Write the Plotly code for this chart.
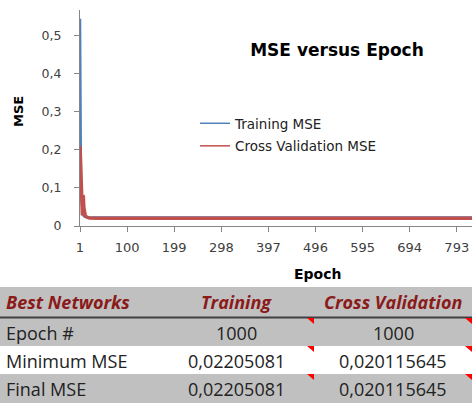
import plotly.graph_objects as go

# ---------------- data ----------------
epochs_train = [1, 2, 3, 4, 5, 6, 7, 8, 9, 10, 12, 14, 17, 20, 25, 30, 40, 1000]
train_mse = [0.545, 0.21, 0.12, 0.075, 0.05, 0.038, 0.032, 0.028, 0.026, 0.025,
             0.024, 0.023, 0.0225, 0.0222, 0.0221, 0.02208, 0.02206, 0.02205081]

epochs_cv = [1, 2, 3, 4, 5, 6, 7, 8, 9, 10, 11, 12, 13, 14, 16, 18, 21, 25, 30, 40, 1000]
cv_mse = [0.21, 0.16, 0.11, 0.06, 0.035, 0.028, 0.08, 0.078, 0.05, 0.036, 0.03,
          0.027, 0.025, 0.024, 0.023, 0.022, 0.021, 0.0205, 0.0203, 0.0202, 0.020115645]

x_tickvals = [1, 100, 199, 298, 397, 496, 595, 694, 793, 892, 991]
y_tickvals = [0, 0.1, 0.2, 0.3, 0.4, 0.5]

table_header = ["Best Networks", "Training", "Cross Validation"]
row_labels = ["Epoch #", "Minimum MSE", "Final MSE"]
training_vals = ["1000", "0,02205081", "0,02205081"]
cv_vals = ["1000", "0,020115645", "0,020115645"]

# ---------------- geometry helpers ----------------
W, H = 472, 403
MT = 10
def px(x):  # pixel x -> paper
    return x / W
def py(y):  # pixel y -> paper
    return (H - y) / (H - MT)

BLUE = "#4f81bd"
RED = "#c0504d"
GREY = "#c0c0c0"
CHART_FONT = "DejaVu Sans"
TABLE_FONT = "Open Sans"

fig = go.Figure()

fig.add_trace(go.Scatter(x=epochs_train, y=train_mse, mode="lines",
                         line=dict(color=BLUE, width=2.5), showlegend=False))
fig.add_trace(go.Scatter(x=epochs_cv, y=cv_mse, mode="lines",
                         line=dict(color=RED, width=3.5), showlegend=False))
# legend entries (thin lines as in the reference legend)
fig.add_trace(go.Scatter(x=[None], y=[None], mode="lines", name="Training MSE",
                         line=dict(color=BLUE, width=1.5), legendgroup="a"))
fig.add_trace(go.Scatter(x=[None], y=[None], mode="lines", name="Cross Validation MSE",
                         line=dict(color=RED, width=1.5), legendgroup="b"))

# ---------------- table (shapes + text) ----------------
shapes = []
annotations = []

shapes.append(dict(type="rect", xref="paper", yref="paper", layer="below",
                   x0=0, x1=1, y0=py(317), y1=py(287), fillcolor=GREY, line=dict(width=0)))
row_bounds = [(318, 346), (346, 374), (374, 403)]
row_fills = [GREY, "white", GREY]
for (t, b), f in zip(row_bounds, row_fills):
    shapes.append(dict(type="rect", xref="paper", yref="paper", layer="below",
                       x0=0, x1=1, y0=py(b), y1=py(t), fillcolor=f, line=dict(width=0)))
shapes.append(dict(type="line", xref="paper", yref="paper", x0=0, x1=1,
                   y0=py(317.5), y1=py(317.5), line=dict(color="#404040", width=2)))
col_rights = [314, 472]
for t, _ in row_bounds:
    for cr in col_rights:
        path = f"M {px(cr-7)},{py(t)} L {px(cr)},{py(t)} L {px(cr)},{py(t+6)} Z"
        shapes.append(dict(type="path", xref="paper", yref="paper", path=path,
                           fillcolor="#ff0000", line=dict(width=0)))

col_x = [4, 236, 393]
col_anchor = ["left", "center", "center"]
header_y = 302
for h, cx, ca in zip(table_header, col_x, col_anchor):
    annotations.append(dict(text=f"<b><i>{h}</i></b>", xref="paper", yref="paper",
                            x=px(cx), y=py(header_y), xanchor=ca, yanchor="middle",
                            showarrow=False,
                            font=dict(family=TABLE_FONT, size=18, color="#8b1a1a")))
columns = [row_labels, training_vals, cv_vals]
for col, cx, ca in zip(columns, col_x, col_anchor):
    for val, (t, b) in zip(col, row_bounds):
        annotations.append(dict(text=val, xref="paper", yref="paper",
                                x=px(cx), y=py((t + b) / 2 + 0.5), xanchor=ca, yanchor="middle",
                                showarrow=False,
                                font=dict(family=TABLE_FONT, size=18, color="#222222")))

annotations += [
    dict(text="<b>MSE</b>", xref="paper", yref="paper", x=px(18), y=py(112),
         xanchor="center", yanchor="middle",
         textangle=-90, showarrow=False, font=dict(family=CHART_FONT, size=13, color="black")),
    dict(text="<b>Epoch</b>", xref="paper", yref="paper", x=px(317), y=py(274),
         xanchor="center", yanchor="middle",
         showarrow=False, font=dict(family=CHART_FONT, size=14, color="black")),
]

fig.update_layout(
    width=W, height=H,
    margin=dict(l=0, r=0, t=MT, b=0, autoexpand=False),
    paper_bgcolor="white", plot_bgcolor="white",
    separators=",.",
    title=dict(text="<b>MSE versus Epoch</b>", x=337 / W, y=1 - 50 / H,
               xanchor="center", yanchor="middle",
               font=dict(family=CHART_FONT, size=17, color="black")),
    xaxis=dict(domain=[px(80), 1], range=[1, 825], tickvals=x_tickvals, automargin=False,
               showgrid=False, zeroline=False, showline=True, linecolor="#868686",
               ticks="outside", ticklen=5, tickcolor="#868686", ticklabelstandoff=4,
               tickfont=dict(family=CHART_FONT, size=13, color="#404040")),
    yaxis=dict(domain=[py(226), 1], range=[0, 0.568], tickvals=y_tickvals, automargin=False,
               showgrid=False, zeroline=False, showline=True, linecolor="#868686",
               ticks="outside", ticklen=5, tickcolor="#868686", ticklabelstandoff=10,
               tickfont=dict(family=CHART_FONT, size=12.5, color="#404040")),
    legend=dict(x=px(195), y=py(108), xanchor="left", yanchor="top",
                bgcolor="rgba(0,0,0,0)", tracegroupgap=2,
                font=dict(family=CHART_FONT, size=13.5, color="#222222")),
    shapes=shapes,
    annotations=annotations,
)

fig.write_html(
    "out.html", config={"displayModeBar": False},
    post_script=("document.documentElement.style.overflow='hidden';"
                 "document.body.style.overflow='hidden';"
                 "document.body.style.margin='0px';"),
)
